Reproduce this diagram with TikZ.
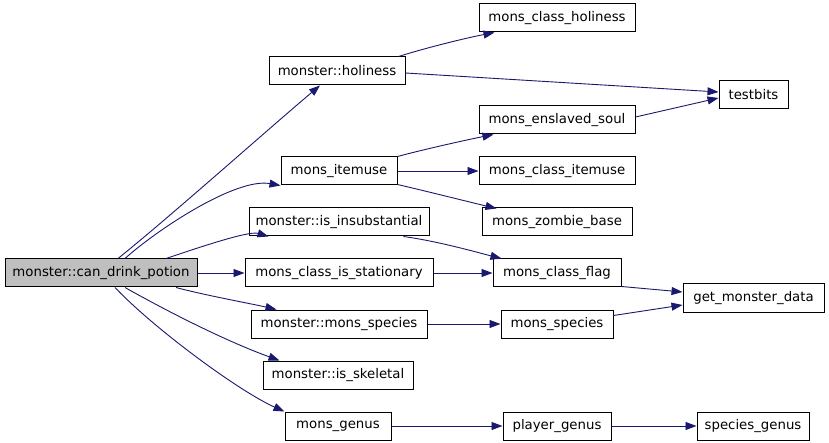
\documentclass[tikz,border=0pt]{standalone}
\usepackage{fontspec}
\setmainfont{DejaVu Sans}
\usetikzlibrary{arrows.meta,calc}
\definecolor{edgeblue}{RGB}{25,25,112}
\definecolor{mainfill}{RGB}{191,191,191}
\begin{document}
\begin{tikzpicture}[x=1pt,y=-1pt,
  fn/.style={draw=black,line width=1pt,fill=white,inner sep=0pt,minimum height=28pt,
    font=\fontsize{13.3}{16}\selectfont,anchor=center},
  mainfn/.style={fn,fill=mainfill},
  call/.style={draw=edgeblue,line width=0.9pt,-{Triangle[length=11pt,width=8pt]},color=edgeblue}]
\useasboundingbox (0,0) rectangle (829,443);
\fill[white] (0,0) rectangle (829,443);

\node[mainfn,minimum width=192pt] (main) at (101,273) {monster::can\_drink\_potion};
\node[fn,minimum width=136pt] (holi) at (337,71) {monster::holiness};
\node[fn,minimum width=156pt] (mchol) at (557,18) {mons\_class\_holiness};
\node[fn,minimum width=69pt] (tb) at (753.5,95) {testbits};
\node[fn,minimum width=116pt] (itemuse) at (339,171) {mons\_itemuse};
\node[fn,minimum width=156pt] (ensl) at (557,120) {mons\_enslaved\_soul};
\node[fn,minimum width=156pt] (mciu) at (557,171) {mons\_class\_itemuse};
\node[fn,minimum width=150pt] (zomb) at (557,222) {mons\_zombie\_base};
\node[fn,minimum width=180pt] (insub) at (339,222) {monster::is\_insubstantial};
\node[fn,minimum width=188pt] (stat) at (339,273) {mons\_class\_is\_stationary};
\node[fn,minimum width=128pt] (flag) at (557,273) {mons\_class\_flag};
\node[fn,minimum width=141pt] (gmd) at (753.5,298) {get\_monster\_data};
\node[fn,minimum width=176pt] (mspec) at (339,324) {monster::mons\_species};
\node[fn,minimum width=112pt] (spec) at (557,324) {mons\_species};
\node[fn,minimum width=150pt] (skel) at (338,375) {monster::is\_skeletal};
\node[fn,minimum width=106pt] (genus) at (338,426) {mons\_genus};
\node[fn,minimum width=108pt] (pgen) at (557,426) {player\_genus};
\node[fn,minimum width=112pt] (sgen) at (753,426) {species\_genus};

% from main
\draw[call] ($(main.north)+(17,0)$) .. controls ($(main.north)+(67,-40)$) and ($(holi.south)+(-67,42)$) .. ($(holi.south)+(-17,0)$);
\draw[call] ($(main.north)+(24,0)$) .. controls ($(main.north)+(55,-28)$) and ($(itemuse.south west)+(-45,-8)$) .. (itemuse.south west);
\draw[call] ($(main.north)+(65,0)$) .. controls ($(main.north)+(95,-10)$) and ($(insub.south west)+(0,-6)$) .. ($(insub.south west)+(20,0)$);
\draw[call] (main.east) -- (stat.west);
\draw[call] ($(main.south)+(75,0)$) .. controls ($(main.south)+(105,8)$) and ($(mspec.north west)+(0,-6)$) .. ($(mspec.north west)+(26,0)$);
\draw[call] ($(main.south)+(24,0)$) .. controls ($(main.south)+(72,27)$) and ($(skel.north west)+(-33,-18)$) .. ($(skel.north west)+(17,0)$);
\draw[call] ($(main.south)+(14,0)$) .. controls ($(main.south)+(54,42)$) and ($(genus.north west)+(-45,-20)$) .. ($(genus.north west)+(0,0)$);

% second level
\draw[call] ($(holi.north east)+(-7,0)$) .. controls ($(holi.north east)+(25,-10)$) and ($(mchol.south west)+(-10,5)$) .. ($(mchol.south west)+(16,0)$);
\draw[call] ($(holi.east)+(0,2)$) -- ($(tb.west)+(0,-3)$);
\draw[call] ($(ensl.east)+(0,-3)$) -- ($(tb.west)+(0,3)$);
\draw[call] ($(itemuse.north east)+(0,0)$) .. controls ($(itemuse.north east)+(30,-8)$) and ($(ensl.south west)+(-10,5)$) .. ($(ensl.south west)+(15,0)$);
\draw[call] (itemuse.east) -- (mciu.west);
\draw[call] ($(itemuse.south east)+(0,-1)$) .. controls ($(itemuse.south east)+(30,6)$) and ($(zomb.north west)+(-10,-5)$) .. ($(zomb.north west)+(15,1)$);
\draw[call] ($(insub.south east)+(-26,0)$) .. controls ($(insub.south east)+(10,5)$) and ($(flag.north west)+(-15,-6)$) .. ($(flag.north west)+(9,0)$);
\draw[call] (stat.east) -- (flag.west);
\draw[call] ($(flag.south east)+(0,-1)$) -- ($(gmd.west)+(0,-6)$);
\draw[call] ($(spec.north east)+(0,6)$) -- ($(gmd.west)+(0,7)$);
\draw[call] (mspec.east) -- (spec.west);
\draw[call] (genus.east) -- (pgen.west);
\draw[call] (pgen.east) -- (sgen.west);
\end{tikzpicture}
\end{document}
